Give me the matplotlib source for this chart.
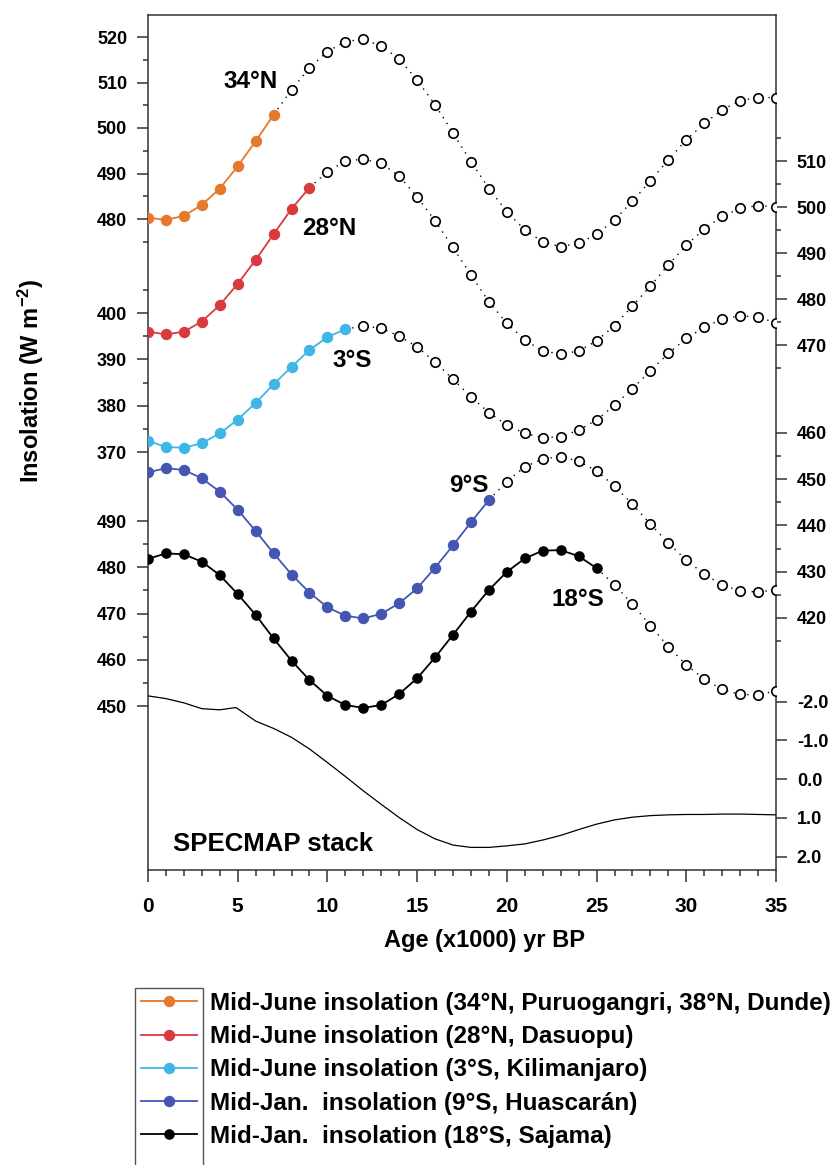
"""
Insolation curves at the ice-core sites (mid-June / mid-Jan.) with the
SPECMAP d18O stack, 0-35 kyr BP. Stacked axes, one per latitude.
"""

import matplotlib

matplotlib.use("Agg")
import matplotlib.pyplot as plt
from matplotlib.patches import Rectangle

plt.rcParams["font.family"] = ["Liberation Sans", "DejaVu Sans"]
plt.rcParams["font.weight"] = "bold"
plt.rcParams["axes.labelweight"] = "bold"
plt.rcParams["axes.unicode_minus"] = False
plt.rcParams["mathtext.fontset"] = "custom"
plt.rcParams["mathtext.rm"] = "Liberation Sans:bold"
plt.rcParams["mathtext.it"] = "Liberation Sans:bold"
plt.rcParams["mathtext.bf"] = "Liberation Sans:bold"

# ages in kyr BP
AGES = list(range(0, 36))

# insolation, W m-2 (filled part = period covered by the ice core record)
INSOL_34N = [480.3, 479.8, 480.7, 483.1, 486.7, 491.6, 497.1, 502.9, 508.4, 513.2,
             516.8, 519.0, 519.5, 518.0, 515.2, 510.5, 505.1, 498.9, 492.6, 486.7,
             481.6, 477.6, 475.0, 473.9, 474.7, 476.6, 479.8, 483.9, 488.4, 493.0,
             497.4, 501.0, 504.0, 506.0, 506.7, 506.7]
INSOL_28N = [472.9, 472.3, 472.9, 475.1, 478.7, 483.3, 488.5, 494.1, 499.6, 504.2,
             507.7, 510.0, 510.4, 509.5, 506.7, 502.2, 497.0, 491.2, 485.2, 479.4,
             474.7, 471.1, 468.7, 468.0, 468.7, 470.9, 474.2, 478.5, 482.8, 487.4,
             491.7, 495.2, 498.0, 499.7, 500.3, 500.1]
INSOL_3S = [372.4, 371.1, 370.9, 371.9, 374.0, 377.0, 380.6, 384.6, 388.4, 392.0,
            394.8, 396.5, 397.2, 396.7, 395.0, 392.7, 389.4, 385.7, 381.9, 378.5,
            375.8, 374.0, 373.1, 373.3, 374.7, 376.9, 380.1, 383.7, 387.5, 391.3,
            394.5, 396.9, 398.7, 399.4, 399.1, 397.9]
INSOL_9S = [451.5, 452.4, 452.0, 450.2, 447.3, 443.4, 438.8, 434.0, 429.4, 425.5,
            422.3, 420.5, 419.9, 420.9, 423.2, 426.4, 430.9, 435.7, 440.7, 445.5,
            449.5, 452.7, 454.4, 454.9, 453.9, 451.8, 448.5, 444.6, 440.3, 436.2,
            432.5, 429.5, 427.1, 425.9, 425.6, 426.1]
INSOL_18S = [481.8, 483.0, 482.8, 481.2, 478.3, 474.2, 469.7, 464.6, 459.8, 455.6,
             452.2, 450.2, 449.6, 450.2, 452.6, 456.0, 460.5, 465.4, 470.4, 475.1,
             479.0, 481.9, 483.6, 483.7, 482.4, 479.8, 476.2, 472.0, 467.4, 462.8,
             458.9, 455.8, 453.6, 452.5, 452.4, 453.3]

# last age (kyr) of the record at each site
END_34N, END_28N, END_3S, END_9S, END_18S = 7, 9, 11, 19, 25

SPECMAP_AGE = [0, 1, 2, 3, 4, 4.9, 6, 7, 8, 9, 10, 11, 12, 13, 14, 15, 16, 17, 18,
               19, 20, 21, 22, 23, 24, 25, 26, 27, 28, 29, 30, 31, 32, 33, 34, 35]
SPECMAP_D18O = [-2.15, -2.08, -1.97, -1.82, -1.79, -1.85, -1.50, -1.31, -1.08, -0.78,
                -0.43, -0.07, 0.30, 0.65, 0.99, 1.30, 1.54, 1.70, 1.76, 1.76, 1.72,
                1.67, 1.57, 1.45, 1.30, 1.16, 1.05, 0.98, 0.94, 0.92, 0.91, 0.91,
                0.90, 0.90, 0.91, 0.92]

LEGEND_LABELS = [
    "Mid-June insolation (34°N, Puruogangri, 38°N, Dunde)",
    "Mid-June insolation (28°N, Dasuopu)",
    "Mid-June insolation (3°S, Kilimanjaro)",
    "Mid-Jan.  insolation (9°S, Huascarán)",
    "Mid-Jan.  insolation (18°S, Sajama)",
]

W, H = 832, 1165
AX_L, AX_R, AX_T, AX_B = 148, 776, 15, 870
SPINE = "#333333"


def ylim_from(va, ya, vb, yb):
    # y-limits so that value va sits at pixel row ya and vb at yb
    k = (vb - va) / (yb - ya)
    return va + (AX_B - ya) * k, va + (AX_T - ya) * k


def style_y(a, major, minor, side):
    a.set_yticks(major)
    a.set_yticks(minor, minor=True)
    if side == "left":
        a.yaxis.tick_left()
    else:
        a.yaxis.tick_right()
    a.tick_params(axis="y", which="major", direction="out", length=8, width=1.1,
                  color=SPINE, pad=7, labelsize=13)
    a.tick_params(axis="y", which="minor", direction="out", length=3.6, width=1.1,
                  color=SPINE)


def draw_series(a, values, end, color, ms):
    a.plot(AGES[end:], values[end:], color="black", lw=1.0, ls=(0, (1, 4)), zorder=2)
    a.plot(AGES[end + 1:], values[end + 1:], ls="none", marker="o", ms=6.8,
           mfc="white", mec="black", mew=1.2, zorder=3)
    line, = a.plot(AGES[:end + 1], values[:end + 1], color=color, lw=1.3,
                   marker="o", ms=ms, zorder=4)
    return line


fig = plt.figure(figsize=(W / 100, H / 100), dpi=100)
ax = fig.add_axes([AX_L / W, 1 - AX_B / H, (AX_R - AX_L) / W, (AX_B - AX_T) / H])
ax.set_xlim(0, 35)
for s in ax.spines.values():
    s.set_color(SPINE)
    s.set_linewidth(1.1)

ax28 = ax.twinx()
ax3s = ax.twinx()
ax9s = ax.twinx()
ax18s = ax.twinx()
axsp = ax.twinx()
for tw in (ax28, ax3s, ax9s, ax18s, axsp):
    for s in tw.spines.values():
        s.set_visible(False)

ax.set_ylim(*ylim_from(520, 37, 480, 219))
ax28.set_ylim(*ylim_from(510, 161, 470, 345))
ax3s.set_ylim(*ylim_from(400, 313, 370, 452))
ax9s.set_ylim(*ylim_from(460, 433, 420, 618))
ax18s.set_ylim(*ylim_from(490, 521, 450, 706))
axsp.set_ylim(*ylim_from(-2, 701.7, 2, 856.7))

style_y(ax, range(480, 521, 10), range(475, 520, 10), "left")
style_y(ax3s, range(370, 401, 10), range(375, 406, 10), "left")
style_y(ax18s, range(450, 491, 10), range(455, 490, 10), "left")
style_y(ax28, range(470, 511, 10), range(465, 516, 10), "right")
style_y(ax9s, range(420, 461, 10), range(415, 456, 10), "right")
style_y(axsp, [-2, -1, 0, 1, 2], [], "right")
axsp.set_yticklabels(["-2.0", "-1.0", "0.0", "1.0", "2.0"])

ax.set_xticks(range(0, 36, 5))
ax.set_xticks(range(0, 36), minor=True)
ax.tick_params(axis="x", which="major", direction="out", length=8.5, width=1.1,
               color=SPINE, pad=11, labelsize=15)
ax.tick_params(axis="x", which="minor", direction="out", length=4, width=1.1,
               color=SPINE)

h34 = draw_series(ax, INSOL_34N, END_34N, "#e57a2c", 7.2)
h28 = draw_series(ax28, INSOL_28N, END_28N, "#d93a3e", 7.2)
h3s = draw_series(ax3s, INSOL_3S, END_3S, "#40b6e6", 7.2)
h9s = draw_series(ax9s, INSOL_9S, END_9S, "#4556b2", 7.2)
h18s = draw_series(ax18s, INSOL_18S, END_18S, "black", 6.6)
axsp.plot(SPECMAP_AGE, SPECMAP_D18O, color="black", lw=0.9)

ax.text(7.25, 508.7, "34°N", ha="right", va="baseline", fontsize=17.5)
ax28.text(8.57, 493.9, "28°N", ha="left", va="baseline", fontsize=17.5)
ax3s.text(10.3, 388.4, "3°S", ha="left", va="baseline", fontsize=17.5)
ax9s.text(18.97, 447.3, "9°S", ha="right", va="baseline", fontsize=17.5)
ax18s.text(22.5, 471.7, "18°S", ha="left", va="baseline", fontsize=17.5)
axsp.text(1.39, 1.845, "SPECMAP stack", ha="left", va="baseline", fontsize=18.5)

ax.set_xlabel("Age (x1000) yr BP", fontsize=17, fontweight="bold")
ax.xaxis.set_label_coords((484 - AX_L) / (AX_R - AX_L), -(940 - AX_B) / (AX_B - AX_T))
ax.xaxis.label.set_va("center")

fig.text(31 / W, 1 - 381 / H, r"Insolation (W m$^{-2}$)", rotation=90,
         ha="center", va="center", fontsize=17)

fig.legend([h34, h28, h3s, h9s, h18s], LEGEND_LABELS, loc="upper left",
           bbox_to_anchor=(141 / W, 1 - 992 / H), frameon=False, fontsize=17.5,
           handlelength=2.3, handletextpad=0.55, borderpad=0, borderaxespad=0,
           labelspacing=0.42)
fig.add_artist(Rectangle((135 / W, -0.02), (203 - 135) / W, 0.02 + 1 - 988 / H,
                         transform=fig.transFigure, fill=False, lw=1.0,
                         ec="#555555"))

fig.savefig("out.png", dpi=100)
plt.close(fig)
